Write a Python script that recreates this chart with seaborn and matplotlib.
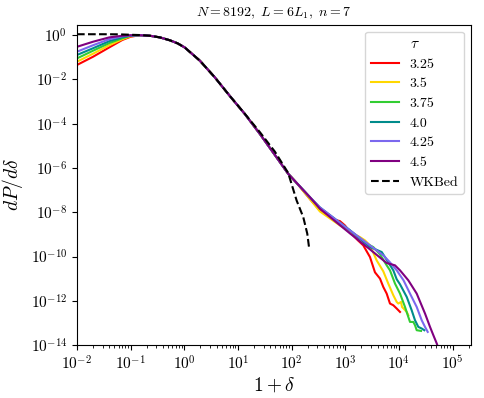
import matplotlib
matplotlib.use("Agg")
import matplotlib.pyplot as plt
import matplotlib.ticker as mticker
import seaborn as sns
import numpy as np

plt.rcParams['font.family'] = 'serif'
plt.rcParams['font.serif'] = ['cmr10', 'DejaVu Serif']
plt.rcParams['mathtext.fontset'] = 'cm'
plt.rcParams['axes.formatter.use_mathtext'] = True

# ---- data ----
taus = ["3.25", "3.5", "3.75", "4.0", "4.25", "4.5"]
colors = ["#ff0000", "#ffd700", "#32cd32", "#008b8b", "#7b68ee", "#800080"]

# low-density part (differs per tau)
low_x = [0.01, 0.02, 0.04, 0.07, 0.1]
low_y = {
    "3.25": [0.0453, 0.107, 0.282, 0.61, 0.855],
    "3.5":  [0.0638, 0.147, 0.354, 0.66, 0.90],
    "3.75": [0.090, 0.20, 0.44, 0.73, 0.95],
    "4.0":  [0.128, 0.259, 0.54, 0.81, 0.95],
    "4.25": [0.18, 0.354, 0.66, 0.90, 0.98],
    "4.5":  [0.30, 0.51, 0.80, 0.95, 1.0],
}

# shared body
body_x = [0.148, 0.227, 0.35, 0.54, 0.75, 1.02, 1.95, 3.71, 7.06, 13.4, 25.6, 48.8, 86.4, 124]
body_y = [1.0, 0.95, 0.80, 0.59, 0.43, 0.28, 0.071, 0.0125, 1.8e-3, 2.79e-4, 3.5e-5, 3.9e-6, 5.5e-7, 2.13e-7]

# high-density tails (differ per tau)
tail_x = {
    "3.25": [219, 337, 598, 796, 986, 1315, 1725, 2168, 2890, 3580, 4440, 5120, 5920, 6820, 7870, 9100, 10490],
    "3.5":  [219, 337, 796, 1410, 1880, 2330, 2890, 3850, 5120, 6340, 7870, 9100, 9750, 10950, 11430, 14000, 14970],
    "3.75": [219, 337, 1224, 2506, 3330, 4440, 5920, 6820, 8460, 10490, 13000, 14970, 16100, 18560, 19960, 21470, 25830],
    "4.0":  [219, 337, 1224, 2890, 4780, 6340, 7870, 9100, 10490, 14000, 17300, 19960, 23000, 26620, 29770],
    "4.25": [219, 337, 1224, 2890, 5120, 6820, 9100, 12190, 16100, 21470, 26620, 30670, 34440],
    "4.5":  [219, 337, 1224, 2890, 5920, 8460, 10490, 14970, 21470, 30670, 38020, 43850, 50720, 55980],
}
tail_y = {
    "3.25": [4.0e-8, 1.21e-8, 4.76e-9, 3.99e-9, 2.55e-9, 1.08e-9, 5.38e-10, 3.20e-10, 9.5e-11, 1.94e-11,
             1.01e-11, 4.21e-12, 2.12e-12, 7.51e-13, 6.29e-13, 4.47e-13, 3.14e-13],
    "3.5":  [4.0e-8, 1.09e-8, 2.55e-9, 1.08e-9, 7.58e-10, 5.38e-10, 3.20e-10, 6.73e-11, 2.15e-11, 6.0e-12,
             1.78e-12, 8.87e-13, 7.51e-13, 8.87e-13, 5.27e-13, 3.14e-13, 2.23e-13],
    "3.75": [4.83e-8, 1.49e-8, 1.52e-9, 3.82e-10, 2.68e-10, 1.26e-10, 4.01e-11, 2.38e-11, 6.0e-12, 2.12e-12,
             5.27e-13, 1.87e-13, 1.11e-13, 1.11e-13, 7.89e-14, 4.69e-14, 4.36e-14],
    "4.0":  [4.83e-8, 1.66e-8, 1.52e-9, 2.68e-10, 1.60e-10, 5.47e-11, 2.38e-11, 9.37e-12, 5.57e-12, 1.49e-12,
             3.74e-13, 1.32e-13, 6.61e-14, 5.60e-14, 4.69e-14],
    "4.25": [4.83e-8, 1.66e-8, 1.52e-9, 3.20e-10, 1.13e-10, 5.47e-11, 2.38e-11, 8.45e-12, 2.12e-12, 5.27e-13,
             1.32e-13, 6.61e-14, 3.93e-14],
    "4.5":  [4.83e-8, 1.45e-8, 1.11e-9, 2.11e-10, 5.09e-11, 4.01e-11, 2.38e-11, 8.45e-12, 2.12e-12, 2.66e-13,
             6.61e-14, 2.79e-14, 1.18e-14, 5.9e-15],
}

# WKB prediction (dashed)
wkb_x = [0.01, 0.03, 0.06, 0.1, 0.148, 0.227, 0.35, 0.54, 0.75, 1.02, 1.95, 3.71, 7.06, 13.4,
         25.6, 48.8, 86.4, 124, 165, 196, 213]
wkb_y = [1.11, 1.11, 1.10, 1.05, 1.02, 0.95, 0.80, 0.59, 0.43, 0.28, 0.071, 0.0125, 1.8e-3, 2.85e-4,
         4.2e-5, 5.5e-6, 6.0e-7, 3.43e-8, 6.05e-9, 1.08e-9, 2.27e-10]

# ---- plot ----
fig = plt.figure(figsize=(4.84, 3.98), dpi=100)
ax = fig.add_axes([0.159, 0.133, 0.973 - 0.159, 0.938 - 0.133])

for tau, col in zip(taus, colors):
    xs = low_x + body_x + tail_x[tau]
    ys = low_y[tau] + body_y + tail_y[tau]
    sns.lineplot(x=xs, y=ys, ax=ax, color=col, lw=1.5, sort=False, estimator=None, label=tau)

sns.lineplot(x=wkb_x, y=wkb_y, ax=ax, color="black", lw=1.5, ls="--", sort=False,
             estimator=None, label="WKBed")

ax.set_xscale("log")
ax.set_yscale("log")
ax.set_xlim(1e-2, 2.2e5)
ax.set_ylim(1e-14, 3)
ax.xaxis.set_major_locator(mticker.LogLocator(base=10, numticks=20))
ax.xaxis.set_minor_locator(mticker.LogLocator(base=10, subs=np.arange(2, 10), numticks=100))
ax.xaxis.set_minor_formatter(mticker.NullFormatter())
ax.yaxis.set_major_locator(mticker.FixedLocator([10.0 ** k for k in range(-14, 1, 2)]))
ax.yaxis.set_minor_locator(mticker.NullLocator())
ax.yaxis.set_major_formatter(mticker.LogFormatterSciNotation())

ax.set_xlabel(r"$1+\delta$", fontsize=14, labelpad=2)
ax.set_ylabel(r"$dP/d\delta$", fontsize=14)
ax.set_title(r"$N=8192,\ L=6L_1,\ n=7$", fontsize=10)
ax.tick_params(labelsize=11)

leg = ax.legend(loc="upper right", title=r"$\tau$", fontsize=10, title_fontsize=11)

fig.savefig("out.png", dpi=100)
